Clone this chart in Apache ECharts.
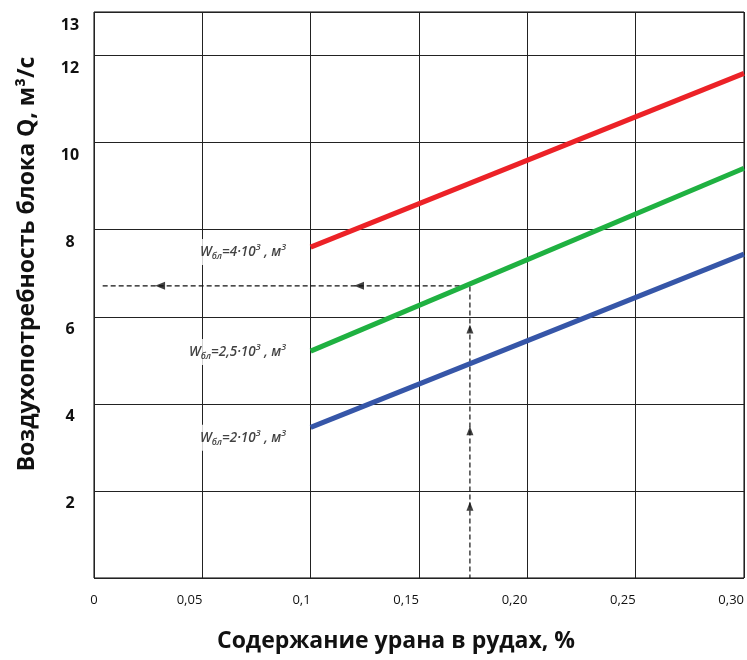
<!DOCTYPE html>
<html>
<head>
<meta charset="utf-8">
<script src="https://cdn.jsdelivr.net/npm/echarts@6/dist/echarts.min.js"></script>
<style>
  html, body { margin: 0; padding: 0; background: #fff; }
  #main { width: 747px; height: 660px; }
</style>
</head>
<body>
<div id="main"></div>
<script>
// uranium grade, % (x) and block air demand Q, m3/s (y)
const xTickLabels = ['0', '0,05', '0,1', '0,15', '0,20', '0,25', '0,30'];
const gradeX = [0.1, 0.3];
const q4000 = [7.6, 11.59];   // W = 4·10^3 m3
const q2500 = [5.21, 9.41];   // W = 2,5·10^3 m3
const q2000 = [3.46, 7.44];   // W = 2·10^3 m3

// dashed read-off example
const guideX = 0.1735;
const guideQ = 6.71;
const arrowLeftX = [0.0305, 0.1223];
const arrowUpQ = [1.65, 3.38, 5.72];

// curve labels: [x right edge, y, W mantissa]
const curveLabels = [
  [0.0905, 7.49, '4'],
  [0.0905, 5.19, '2,5'],
  [0.0905, 3.22, '2']
];

let myChart = echarts.init(document.getElementById('main'));

function pairs(xs, ys) {
  return xs.map((x, i) => [x, ys[i]]);
}

const richW = {
  w: { fontSize: 13.5, fontStyle: 'italic', fontWeight: 600, color: '#111', fontFamily: 'Open Sans', lineHeight: 18 },
  sub: { fontSize: 9, fontStyle: 'italic', fontWeight: 600, color: '#111', fontFamily: 'Open Sans', verticalAlign: 'bottom', lineHeight: 12, padding: [7, 0, 0, 0] },
  sup: { fontSize: 9, fontStyle: 'italic', fontWeight: 600, color: '#111', fontFamily: 'Open Sans', verticalAlign: 'top', lineHeight: 12, padding: [0, 0, 7, 0] }
};

let option = {
  animation: false,
  grid: {
    left: 94, right: 3, top: 12, bottom: 82, outerBoundsMode: 'none', containLabel: false,
    show: true, borderColor: '#000', borderWidth: 1
  },
  xAxis: {
    type: 'value', min: 0, max: 0.3, interval: 0.05,
    axisLine: { show: false }, axisTick: { show: false },
    splitLine: { show: true, lineStyle: { color: '#222', width: 1 } },
    axisLabel: {
      margin: 16, fontSize: 13, color: '#111', fontFamily: 'Open Sans',
      align: 'right', alignMinLabel: 'center', alignMaxLabel: 'right',
      showMaxLabel: true, hideOverlap: false,
      formatter: v => xTickLabels[Math.round(v / 0.05)]
    }
  },
  yAxis: {
    type: 'value', min: 0, max: 13, interval: 2,
    axisLine: { show: false }, axisTick: { show: false },
    splitLine: { show: true, lineStyle: { color: '#222', width: 1 } },
    axisLabel: {
      margin: 24, align: 'center', verticalAlign: 'top', padding: [5, 0, 0, 0],
      fontSize: 16, fontWeight: 'bold', color: '#111', fontFamily: 'Open Sans',
      showMaxLabel: true,
      formatter: v => (v === 0 ? '' : String(v))
    }
  },
  graphic: [
    {
      type: 'text', x: 27, y: 264, rotation: Math.PI / 2, originX: 0, originY: 0,
      style: {
        text: 'Воздухопотребность блока Q, м³/с',
        font: 'bold 23px "Open Sans"', fill: '#111', align: 'center', verticalAlign: 'middle'
      }
    },
    {
      type: 'text', x: 396, y: 641,
      style: {
        text: 'Содержание урана в рудах, %',
        font: 'bold 23px "Open Sans"', fill: '#111', align: 'center', verticalAlign: 'middle'
      }
    }
  ],
  series: [
    { type: 'line', data: pairs(gradeX, q4000), symbol: 'none', lineStyle: { color: '#ec2227', width: 5 }, z: 5 },
    { type: 'line', data: pairs(gradeX, q2500), symbol: 'none', lineStyle: { color: '#1fb141', width: 5 }, z: 5 },
    { type: 'line', data: pairs(gradeX, q2000), symbol: 'none', lineStyle: { color: '#3656a8', width: 5 }, z: 5 },
    {
      type: 'line', data: [[0.004, guideQ], [guideX, guideQ], [guideX, 0]], symbol: 'none',
      lineStyle: { color: '#111', width: 1.2, type: [5, 3] }, z: 4
    },
    {
      type: 'scatter', data: arrowLeftX.map(x => [x, guideQ]),
      symbol: 'triangle', symbolSize: [8, 10], symbolRotate: 90,
      itemStyle: { color: '#111' }, z: 6
    },
    {
      type: 'scatter', data: arrowUpQ.map(q => [guideX, q]),
      symbol: 'triangle', symbolSize: [7, 9],
      itemStyle: { color: '#111' }, z: 6
    },
    {
      type: 'scatter', symbolSize: 0, z: 7,
      data: curveLabels.map(d => ({ value: [d[0], d[1]], w: d[2] })),
      label: {
        show: true, position: 'left', distance: 0,
        backgroundColor: '#fff', padding: [4, 4, 4, 4],
        formatter: p => '{w|W}{sub|бл}{w|=' + p.data.w + '·10}{sup|3}{w| , м}{sup|3}',
        rich: richW
      }
    }
  ]
};
myChart.setOption(option);
</script>
</body>
</html>
